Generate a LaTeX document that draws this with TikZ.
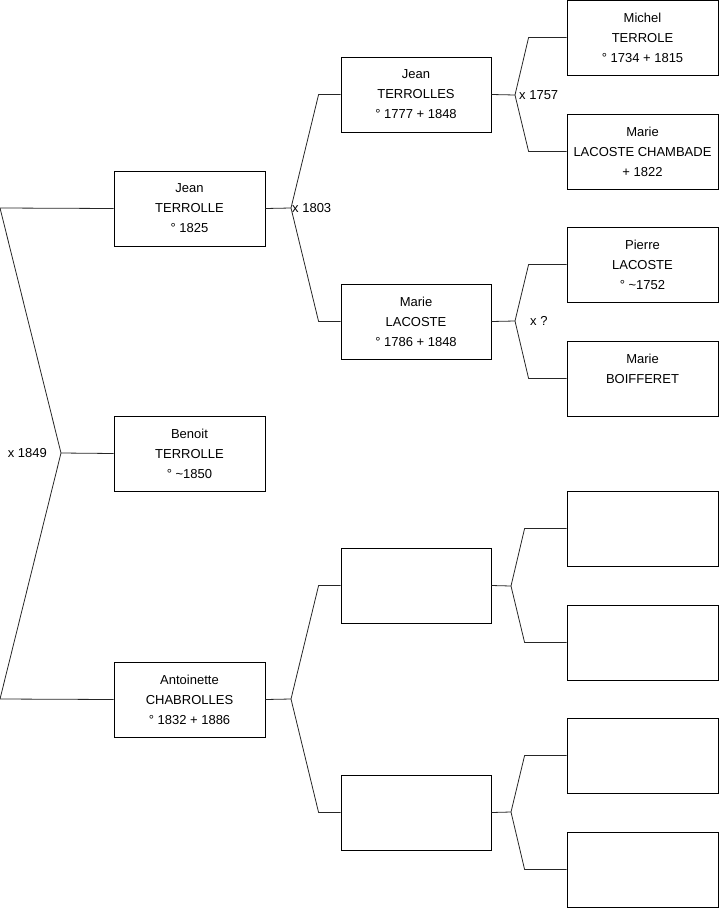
\documentclass[tikz,border=0pt]{standalone}
\usepackage{fontspec}
\setmainfont{Liberation Sans}
\usetikzlibrary{calc}
\tikzset{
  person/.style={
    draw=black,fill=white,line width=.8pt,
    minimum width=151bp,minimum height=75bp,inner sep=0pt,
    align=center,font=\fontsize{13bp}{20bp}\selectfont
  },
  link/.style={draw=black!85,line width=.8pt},
  union/.style={inner sep=1bp,font=\fontsize{13bp}{16bp}\selectfont}
}
\begin{document}
\begin{tikzpicture}[x=1bp,y=-1bp]
\useasboundingbox (0,0) rectangle (719,908);
% generation 1
\node[person] (jean) at (189.5,208.5) {Jean\\TERROLLE\\° 1825};
\node[person] (benoit) at (189.5,453.5) {Benoit\\TERROLLE\\° \textasciitilde1850};
\node[person] (antoinette) at (189.5,699.5) {Antoinette\\CHABROLLES\\° 1832 + 1886};
% generation 2
\node[person,minimum width=150bp] (jeanf) at (416,94.5) {Jean\\TERROLLES\\° 1777 + 1848};
\node[person,minimum width=150bp] (mariel) at (416,321.5) {Marie\\LACOSTE\\° 1786 + 1848};
\node[person,minimum width=150bp] (pa) at (416,585.5) {};
\node[person,minimum width=150bp] (ma) at (416,812.5) {};
% generation 3
\node[person] (michel) at (642.5,37.5) {Michel\\TERROLE\\° 1734 + 1815};
\node[person] (marieg) at (642.5,151.5) {Marie\\LACOSTE CHAMBADE\\+ 1822};
\node[person] (pierre) at (642.5,264.5) {Pierre\\LACOSTE\\° \textasciitilde1752};
\node[person] (boif) at (642.5,378.5) {Marie\\BOIFFERET\\\mbox{}};
\node[person] (e1) at (642.5,528.5) {};
\node[person] (e2) at (642.5,642.5) {};
\node[person] (e3) at (642.5,755.5) {};
\node[person] (e4) at (642.5,869.5) {};

% unions
\coordinate (u1849) at (61,453);
\coordinate (u1803) at (291,208);
\coordinate (uanto) at (291,699);
\coordinate (u1757) at (515,95);
\coordinate (uq) at (515,321);
\coordinate (upa) at (511,586);
\coordinate (uma) at (511,812);

\draw[link] (jean.west) -- (0,208) -- (u1849) -- (0,699) -- (antoinette.west);
\draw[link] (u1849) -- (benoit.west);
\node[union,anchor=east] at (u1849) [xshift=-13bp] {x 1849};

\draw[link] (jean.east) -- (u1803);
\draw[link] (jeanf.west) -- ++(-22,0) -- (u1803) -- ([xshift=-22bp]mariel.west) -- (mariel.west);
\node[union,anchor=west] at (u1803) {x 1803};

\draw[link] (antoinette.east) -- (uanto);
\draw[link] (pa.west) -- ++(-22,0) -- (uanto) -- ([xshift=-22bp]ma.west) -- (ma.west);

\draw[link] (jeanf.east) -- (u1757);
\draw[link] (michel.west) -- ++(-38,0) -- (u1757) -- ([xshift=-38bp]marieg.west) -- (marieg.west);
\node[union,anchor=west] at (u1757) [xshift=3bp] {x 1757};

\draw[link] (mariel.east) -- (uq);
\draw[link] (pierre.west) -- ++(-38,0) -- (uq) -- ([xshift=-38bp]boif.west) -- (boif.west);
\node[union,anchor=west] at (uq) [xshift=14bp] {x ?};

\draw[link] (pa.east) -- (upa);
\draw[link] (e1.west) -- ++(-42,0) -- (upa) -- ([xshift=-42bp]e2.west) -- (e2.west);

\draw[link] (ma.east) -- (uma);
\draw[link] (e3.west) -- ++(-42,0) -- (uma) -- ([xshift=-42bp]e4.west) -- (e4.west);
\end{tikzpicture}
\end{document}
